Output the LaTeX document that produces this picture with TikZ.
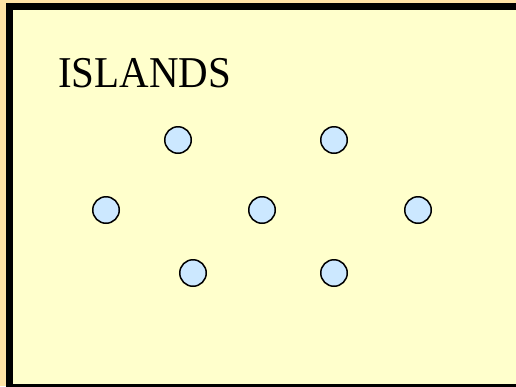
\documentclass[tikz,border=0pt]{standalone}
\usepackage{fontspec}
\setmainfont{Liberation Serif}
\definecolor{OuterClr}{RGB}{255,227,166}
\definecolor{SeaClr}{RGB}{255,255,204}
\definecolor{IslandClr}{RGB}{204,232,255}
\tikzset{
  island/.style={circle,draw=black,line width=1.5pt,fill=IslandClr,
    minimum size=26.5pt,inner sep=0pt}
}

\begin{document}
\begin{tikzpicture}[x=1pt,y=-1pt]
\useasboundingbox (0,0) rectangle (516,386);
\clip (0,0) rectangle (516,386);
\fill[OuterClr] (0,0) rectangle (516,386);

% sea with frame
\draw[line width=7pt,fill=SeaClr] (9,6.5) rectangle (525,387.5);

\node[anchor=base west,inner sep=0pt,xscale=0.93,
  font=\fontsize{44}{48}\selectfont] (title) at (58,87) {ISLANDS};

% islands
\node[island] (nw) at (178,140) {};
\node[island] (ne) at (334,140) {};
\node[island] (w)  at (106,210) {};
\node[island] (c)  at (262,210) {};
\node[island] (e)  at (418,210) {};
\node[island] (sw) at (193,273) {};
\node[island] (se) at (334,273) {};

\end{tikzpicture}
\end{document}
